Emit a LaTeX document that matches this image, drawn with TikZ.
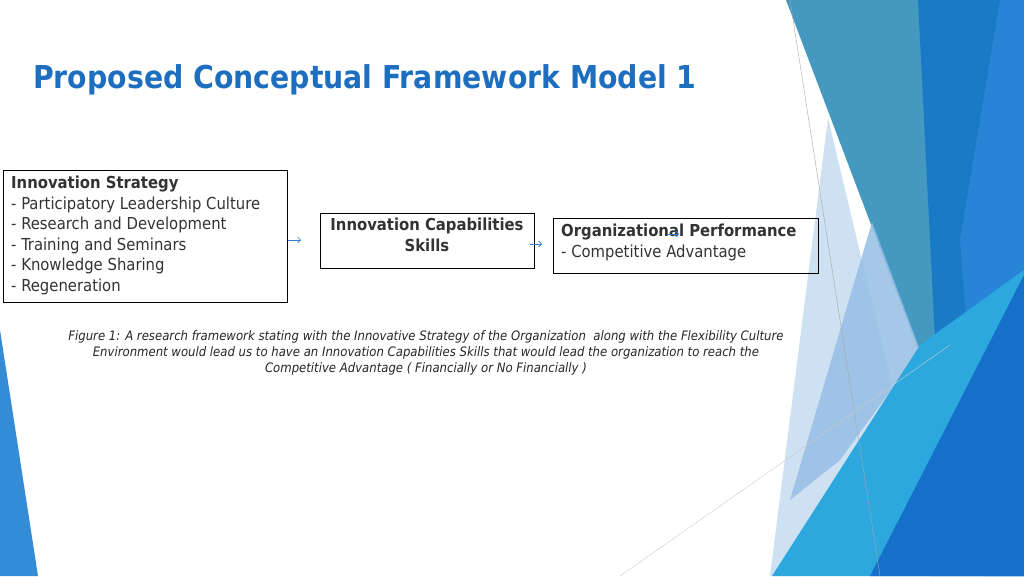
\documentclass[tikz,border=0pt]{standalone}
\usepackage{fontspec}
\setmainfont{DejaVu Sans Condensed}
\usetikzlibrary{arrows.meta}
\definecolor{ttl}{HTML}{1E6EC0}
\definecolor{arr}{HTML}{2E7BD0}
\begin{document}
\begin{tikzpicture}[x=1pt,y=-1pt,
  box/.style={draw=black,line width=1.2pt,inner sep=0pt,anchor=north west},
  lbl/.style={anchor=north west,align=left,font=\fontsize{16.5}{20.5}\selectfont,text=black!80,inner sep=0pt},
  conn/.style={draw=arr,-{Straight Barb[length=3pt]},line width=0.6pt}]
\useasboundingbox (0,0) rectangle (1024,576);
% background decoration
\fill[fill={rgb,255:red,52;green,140;blue,214}] (0,330) -- (38,576) -- (0,576) -- cycle;
\fill[fill={rgb,255:red,69;green,153;blue,192}] (786,0) -- (1024,0) -- (1024,576) -- (930,576) -- (945,420) -- cycle;
\fill[fill={rgb,255:red,26;green,122;blue,198}] (918,0) -- (1000,0) -- (1024,300) -- (975,576) -- (940,440) -- cycle;
\fill[fill={rgb,255:red,40;green,132;blue,214}] (1000,0) -- (1024,0) -- (1024,576) -- (985,576) -- (960,240) -- cycle;
\fill[fill={rgb,255:red,205;green,225;blue,242}] (828,118) -- (900,420) -- (800,576) -- (770,576) -- cycle;
\fill[fill={rgb,255:red,150;green,190;blue,228},opacity=0.85] (872,222) -- (920,350) -- (840,460) -- (790,500) -- cycle;
\fill[fill={rgb,255:red,45;green,168;blue,222}] (772,576) -- (920,345) -- (1024,270) -- (1024,576) -- cycle;
\fill[fill={rgb,255:red,20;green,112;blue,200}] (870,576) -- (1024,275) -- (1024,576) -- cycle;
\draw[gray!70,line width=0.4pt] (790,0) -- (880,576);
\draw[gray!40,line width=0.4pt] (620,576) -- (950,345);
% title
\node[anchor=west,text=ttl,font=\fontsize{31.5}{36}\selectfont\bfseries,inner sep=0pt] (title) at (33,80) {Proposed Conceptual Framework Model 1};
% boxes
\node[box,minimum width=284pt,minimum height=132pt] (b1) at (3,170) {};
\node[lbl] (t1) at (11,176) {\textbf{Innovation Strategy}\\- Participatory Leadership Culture\\- Research and Development\\- Training and Seminars\\- Knowledge Sharing\\- Regeneration};
\node[box,minimum width=214pt,minimum height=55pt] (b2) at (320,213) {};
\node[lbl,align=center,anchor=north] (t2) at (427,218) {\textbf{Innovation Capabilities}\\\textbf{Skills}};
\node[box,minimum width=265pt,minimum height=55pt] (b3) at (553,218) {};
\node[lbl] (t3) at (561,224) {\textbf{Organizational Performance}\\- Competitive Advantage};
% arrows
\coordinate (a1s) at (288,240); \coordinate (a1e) at (301,240);
\coordinate (a2s) at (530,244); \coordinate (a2e) at (542,244);
\coordinate (a3s) at (667,234); \coordinate (a3e) at (679,234);
\draw[conn] (a1s) -- (a1e);
\draw[conn] (a2s) -- (a2e);
\draw[conn] (a3s) -- (a3e);
% caption
\node[anchor=north,align=center,font=\fontsize{13}{16}\selectfont\itshape,text=black!85,inner sep=0pt] (cap) at (426,330) {Figure 1: A research framework stating with the Innovative Strategy of the Organization\ \ along with the Flexibility Culture\\Environment would lead us to have an Innovation Capabilities Skills that would lead the organization to reach the\\Competitive Advantage ( Financially or No Financially )};
\end{tikzpicture}
\end{document}
